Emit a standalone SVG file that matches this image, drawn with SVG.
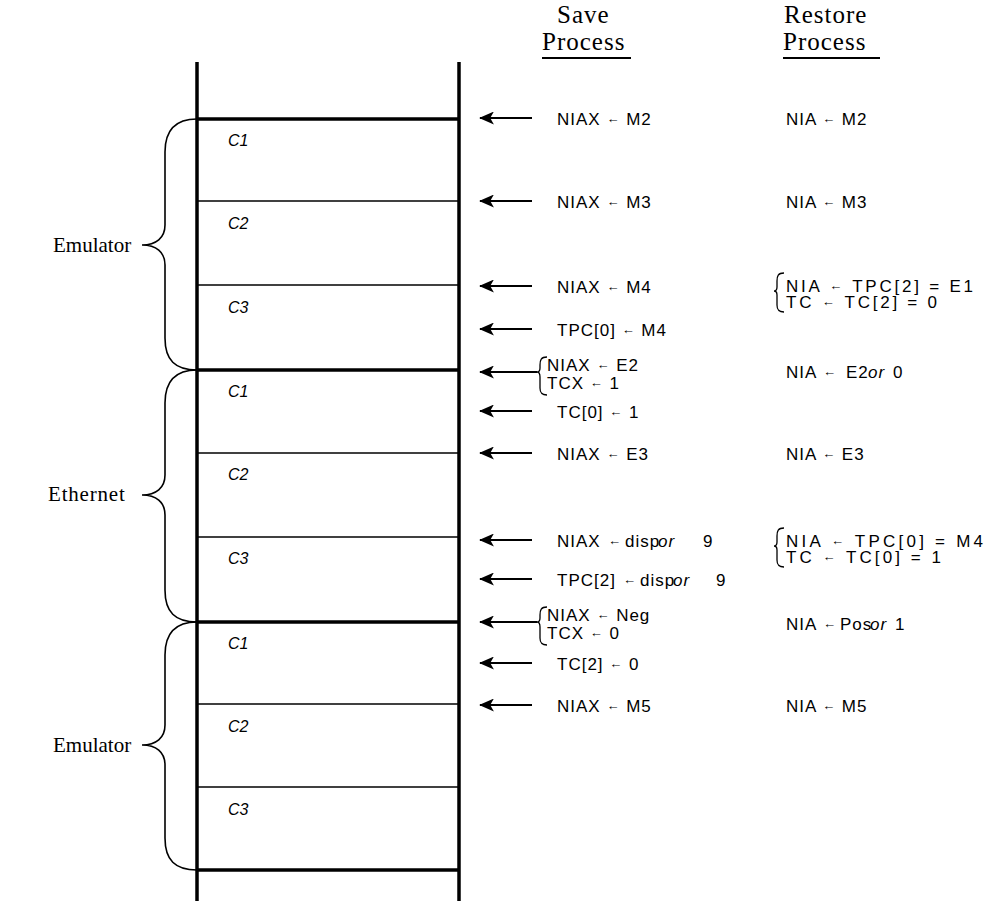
<svg xmlns="http://www.w3.org/2000/svg" width="995" height="901" viewBox="0 0 995 901">
<style>
.bg{fill:#fff}
.frame{stroke:#000;stroke-width:3.5;fill:none}
.thick{stroke:#000;stroke-width:3.5}
.thin{stroke:#000;stroke-width:1.4}
.brace{stroke:#000;stroke-width:1.6;fill:none}
.sbrace{stroke:#000;stroke-width:1.3;fill:none}
.arr{stroke:#000;stroke-width:2.2;fill:none}
.serif{font-family:"Liberation Serif","Times New Roman",serif;font-size:21px;fill:#000}
.head{font-family:"Liberation Serif","Times New Roman",serif;font-size:25px;fill:#000;letter-spacing:1px}
.cl{font-family:"Liberation Sans",Arial,sans-serif;font-size:16px;font-style:italic;fill:#000}
.t{font-family:"Liberation Sans",Arial,sans-serif;font-size:17px;fill:#000;letter-spacing:1px}
.sa{font-size:13px;baseline-shift:2px}
.it{font-style:italic}
.ul{stroke:#000;stroke-width:2}
</style>
<defs>
<marker id="ah" viewBox="0 0 16 14" refX="15" refY="7" markerWidth="16" markerHeight="13" markerUnits="userSpaceOnUse" orient="auto">
<path d="M0,0 L16,7 L0,14 L4,7 Z" fill="#000"/>
</marker>
</defs>
<rect class="bg" x="0" y="0" width="995" height="901"/>

<g id="headers">
<text class="head" x="557" y="23">Save</text>
<text class="head" x="542" y="50">Process</text>
<line class="ul" x1="542" y1="58" x2="631" y2="58"/>
<text class="head" x="784" y="23">Restore</text>
<text class="head" x="783" y="50">Process</text>
<line class="ul" x1="783" y1="58" x2="880" y2="58"/>
</g>

<g id="stack">
<line class="frame" x1="197" y1="62" x2="197" y2="901"/>
<line class="frame" x1="459" y1="62" x2="459" y2="901"/>
<line class="thick" x1="197" y1="119" x2="459" y2="119"/>
<line class="thin" x1="197" y1="201" x2="459" y2="201"/>
<line class="thin" x1="197" y1="285" x2="459" y2="285"/>
<line class="thick" x1="197" y1="370" x2="459" y2="370"/>
<line class="thin" x1="197" y1="453" x2="459" y2="453"/>
<line class="thin" x1="197" y1="537" x2="459" y2="537"/>
<line class="thick" x1="197" y1="622" x2="459" y2="622"/>
<line class="thin" x1="197" y1="704" x2="459" y2="704"/>
<line class="thin" x1="197" y1="787" x2="459" y2="787"/>
<line class="thick" x1="197" y1="870" x2="459" y2="870"/>
<text class="cl" x="228" y="146">C1</text>
<text class="cl" x="228" y="229">C2</text>
<text class="cl" x="228" y="313">C3</text>
<text class="cl" x="228" y="397">C1</text>
<text class="cl" x="228" y="480">C2</text>
<text class="cl" x="228" y="564">C3</text>
<text class="cl" x="228" y="649">C1</text>
<text class="cl" x="228" y="732">C2</text>
<text class="cl" x="228" y="815">C3</text>
</g>

<g id="emulator1">
<path class="brace" d="M197,119 C175,119 165,130 165,152 L165,225 C165,238 156,245 142,245 C156,245 165,252 165,265 L165,338 C165,360 175,370 197,370"/>
<text class="serif" x="53" y="252">Emulator</text>
</g>
<g id="ethernet">
<path class="brace" d="M197,370 C175,370 165,381 165,403 L165,475 C165,488 156,495 142,495 C156,495 165,502 165,515 L165,590 C165,612 175,622 197,622"/>
<text class="serif" x="48" y="501" style="letter-spacing:0.8px">Ethernet</text>
</g>
<g id="emulator2">
<path class="brace" d="M197,622 C175,622 165,633 165,655 L165,725 C165,738 156,745 142,745 C156,745 165,752 165,765 L165,838 C165,860 175,870 197,870"/>
<text class="serif" x="53" y="752">Emulator</text>
</g>

<g id="connectors">
<line class="arr" x1="532" y1="118" x2="480" y2="118" marker-end="url(#ah)"/>
<line class="arr" x1="532" y1="201" x2="480" y2="201" marker-end="url(#ah)"/>
<line class="arr" x1="532" y1="286" x2="480" y2="286" marker-end="url(#ah)"/>
<line class="arr" x1="532" y1="329" x2="480" y2="329" marker-end="url(#ah)"/>
<line class="arr" x1="537" y1="372" x2="480" y2="372" marker-end="url(#ah)"/>
<line class="arr" x1="532" y1="411" x2="480" y2="411" marker-end="url(#ah)"/>
<line class="arr" x1="532" y1="453" x2="480" y2="453" marker-end="url(#ah)"/>
<line class="arr" x1="532" y1="540" x2="480" y2="540" marker-end="url(#ah)"/>
<line class="arr" x1="532" y1="579" x2="480" y2="579" marker-end="url(#ah)"/>
<line class="arr" x1="537" y1="622" x2="480" y2="622" marker-end="url(#ah)"/>
<line class="arr" x1="532" y1="663" x2="480" y2="663" marker-end="url(#ah)"/>
<line class="arr" x1="532" y1="705" x2="480" y2="705" marker-end="url(#ah)"/>
</g>

<g id="save">
<text class="t" x="557" y="125">NIAX <tspan class="sa">←</tspan> M2</text>
<text class="t" x="557" y="208">NIAX <tspan class="sa">←</tspan> M3</text>
<text class="t" x="557" y="293">NIAX <tspan class="sa">←</tspan> M4</text>
<text class="t" x="557" y="336">TPC[0] <tspan class="sa">←</tspan> M4</text>
<path class="sbrace" d="M547,357 C541,357 540,360 540,365 L540,368 C540,371 539,372 537,372 C539,372 540,374 540,377 L540,388 C540,392 541,395 547,395"/>
<text class="t" x="547" y="371">NIAX <tspan class="sa">←</tspan> E2</text>
<text class="t" x="547" y="389">TCX <tspan class="sa">←</tspan> 1</text>
<text class="t" x="557" y="418">TC[0] <tspan class="sa">←</tspan> 1</text>
<text class="t" x="557" y="460">NIAX <tspan class="sa">←</tspan> E3</text>
<text class="t" x="557" y="547">NIAX<tspan class="sa" x="608">←</tspan><tspan x="625">disp</tspan><tspan class="it" x="658">or</tspan><tspan x="703">9</tspan></text>
<text class="t" x="557" y="586">TPC[2]<tspan class="sa" x="623">←</tspan><tspan x="640">disp</tspan><tspan class="it" x="673">or</tspan><tspan x="716">9</tspan></text>
<path class="sbrace" d="M547,607 C541,607 540,610 540,615 L540,618 C540,621 539,622 537,622 C539,622 540,624 540,627 L540,638 C540,642 541,645 547,645"/>
<text class="t" x="547" y="621">NIAX <tspan class="sa">←</tspan> Neg</text>
<text class="t" x="547" y="639">TCX <tspan class="sa">←</tspan> 0</text>
<text class="t" x="557" y="670">TC[2] <tspan class="sa">←</tspan> 0</text>
<text class="t" x="557" y="712">NIAX <tspan class="sa">←</tspan> M5</text>
</g>

<g id="restore">
<text class="t" x="786" y="125">NIA <tspan class="sa">←</tspan> M2</text>
<text class="t" x="786" y="208">NIA <tspan class="sa">←</tspan> M3</text>
<path class="sbrace" d="M784,273 C778,273 777,276 777,281 L777,287 C777,290 776,291 774,291 C776,291 777,292 777,295 L777,305 C777,309 778,312 784,312"/>
<text class="t" x="786" y="292" textLength="188" lengthAdjust="spacing">NIA <tspan class="sa">←</tspan> TPC[2] = E1</text>
<text class="t" x="786" y="308" textLength="152" lengthAdjust="spacing">TC <tspan class="sa">←</tspan> TC[2] = 0</text>
<text class="t" x="786" y="378">NIA<tspan class="sa" x="823">←</tspan><tspan x="846">E2</tspan><tspan class="it" x="868">or</tspan><tspan x="893">0</tspan></text>
<text class="t" x="786" y="460">NIA <tspan class="sa">←</tspan> E3</text>
<path class="sbrace" d="M784,528 C778,528 777,531 777,536 L777,542 C777,545 776,546 774,546 C776,546 777,547 777,550 L777,560 C777,564 778,567 784,567"/>
<text class="t" x="786" y="547" textLength="198" lengthAdjust="spacing">NIA <tspan class="sa">←</tspan> TPC[0] = M4</text>
<text class="t" x="786" y="563" textLength="156" lengthAdjust="spacing">TC <tspan class="sa">←</tspan> TC[0] = 1</text>
<text class="t" x="786" y="630">NIA<tspan class="sa" x="823">←</tspan><tspan x="840">Pos</tspan><tspan class="it" x="870">or</tspan><tspan x="895">1</tspan></text>
<text class="t" x="786" y="712">NIA <tspan class="sa">←</tspan> M5</text>
</g>
</svg>
